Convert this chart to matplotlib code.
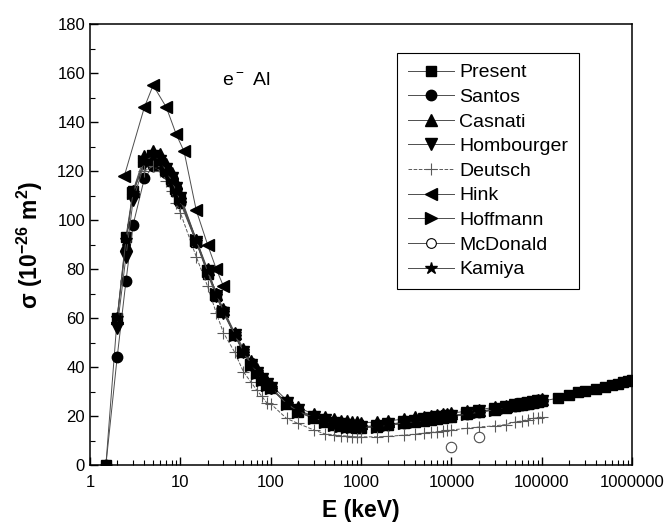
#!/usr/bin/env python3
"""Total cross section of e- on Al versus energy: present results vs literature data."""
import matplotlib
matplotlib.use('Agg')
import matplotlib.pyplot as plt
from matplotlib.lines import Line2D
from matplotlib.ticker import FixedLocator, NullFormatter, LogLocator, MultipleLocator

plt.rcParams['font.family'] = ['Liberation Sans', 'DejaVu Sans']
plt.rcParams['mathtext.fontset'] = 'custom'
plt.rcParams['mathtext.rm'] = 'Liberation Sans'
plt.rcParams['mathtext.bf'] = 'Liberation Sans:bold'

# energy grid (keV) shared by most data sets
E_grid = [1.5, 2, 2.5, 3, 4, 5, 6, 7, 8, 9, 10, 15, 20, 25, 30, 40, 50, 60, 70, 80, 90,
          100, 150, 200, 300, 400, 500, 600, 700, 800, 900, 1000, 1500, 2000, 3000, 4000,
          5000, 6000, 7000, 8000, 9000, 10000, 15000, 20000, 30000, 40000, 50000, 60000,
          70000, 80000, 90000, 100000]
E_high = [150000, 200000, 250000, 300000, 400000, 500000, 600000, 700000, 800000,
          900000, 1000000]

present = [0, 60, 93, 112, 124, 125, 123, 120, 116, 112, 108, 91, 78, 69, 62.5, 53, 46,
           41, 37.5, 34.7, 32.6, 31.4, 25, 21.6, 19, 17.6, 16.3, 15.8, 15.5, 15.4, 15.3,
           15.3, 15.6, 16.2, 17, 17.6, 18.1, 18.5, 18.9, 19.2, 19.5, 19.7, 20.7, 21.5,
           22.5, 23.3, 24, 24.5, 25, 25.4, 25.7, 26]
present_high = [27.3, 28.6, 29.6, 30.2, 31.2, 32, 32.6, 33.2, 33.7, 34.1, 34.5]

santos = [0, 44, 75, 98, 117, 122, 122, 119, 116, 112, 107, 91, 79, 70, 63, 53, 46.5,
          41.5, 38, 35, 33, 31.5, 25.5, 22.3, 19.5, 18, 17, 16.4, 16, 15.8, 15.6, 15.5,
          15.8, 16.4, 17.3, 17.9, 18.4, 18.8, 19.1, 19.4, 19.7, 19.9, 20.9, 21.7, 22.7,
          23.5, 24.1, 24.7, 25.1, 25.5, 25.8, 26.1]

# these start at 2 keV
casnati = [60, 90, 112, 126, 128, 127, 123, 119, 115, 110, 92, 80, 70, 63.5, 54, 47.5,
           42.5, 39, 36, 34, 32.8, 26.5, 23.5, 20.8, 19.5, 18.6, 18.1, 17.8, 17.6, 17.4,
           17.3, 17.5, 18, 18.8, 19.4, 19.8, 20.2, 20.5, 20.8, 21, 21.2, 22, 22.6, 23.5,
           24.2, 24.8, 25.3, 25.8, 26.2, 26.5, 26.8]
hombourger = [56, 85, 108, 123, 126, 124, 121, 117, 113, 109, 91, 79, 69, 62, 53, 46, 41,
              37.5, 35, 33, 31.5, 25.5, 22.5, 19.8, 18.3, 17.3, 16.6, 16.2, 16, 15.8,
              15.7, 16, 16.6, 17.5, 18.1, 18.6, 19, 19.4, 19.7, 20, 20.2, 21.1, 21.9,
              22.9, 23.6, 24.3, 24.8, 25.3, 25.7, 26, 26.3]
kamiya = [60, 92, 111, 124, 126, 124, 120, 116, 112, 108, 92, 79, 70, 63, 53.5, 46.5,
          41.5, 38, 35, 33, 31.5, 25, 22, 19.3, 17.8, 16.8, 16.2, 15.8, 15.6, 15.5, 15.4,
          15.7, 16.3, 17.2, 17.8, 18.3, 18.7, 19, 19.3, 19.6, 19.8, 20.8, 21.6, 22.6, 23.4,
          24.1, 24.6, 25.1, 25.5, 25.8, 26.1]

# starts at 3 keV
hoffmann = [111, 124, 126, 124, 121, 117, 113, 109, 92, 79, 70, 63, 53, 46, 41, 37.5,
            34.8, 32.8, 31.4, 25, 21.8, 19.2, 17.7, 16.5, 16, 15.7, 15.5, 15.4, 15.4,
            15.7, 16.3, 17.1, 17.7, 18.2, 18.6, 19, 19.3, 19.6, 19.8, 20.8, 21.6, 22.6,
            23.4, 24.1, 24.6, 25.1, 25.5, 25.8, 26.1]

# starts at 4 keV
deutsch = [120, 122, 120, 116, 112, 107, 103, 85, 73, 62, 54, 46, 38, 34, 30.6, 28, 25.5,
           25, 19, 17, 14.3, 12.7, 12.3, 12, 11.8, 11.6, 11.5, 11.5, 11.5, 11.7, 12.2,
           12.6, 13, 13.3, 13.6, 13.9, 14.1, 14.3, 15, 15.5, 16, 16.5, 17.5, 18, 18.5,
           19, 19.3, 19.6]

E_hink = [2.4, 4, 5, 7, 9, 11, 15, 20, 25, 30]
hink = [118, 146, 155, 146, 135, 128, 104, 90, 80, 73]

E_mcdonald = [10000, 20000]
mcdonald = [7.5, 11.5]

fig = plt.figure(figsize=(6.64, 5.30), dpi=100)
ax = fig.add_axes([0.1355, 0.1226, 0.8165, 0.8321])

line_kw = dict(color='0.3', lw=0.7, mfc='black', mec='black')
handles = []
h, = ax.plot(E_grid + E_high, present + present_high, marker='s', ms=6.5, **line_kw)
handles.append((h, 'Present'))
h, = ax.plot(E_grid, santos, marker='o', ms=7.5, **line_kw)
handles.append((h, 'Santos'))
h, = ax.plot(E_grid[1:], casnati, marker='^', ms=8, **line_kw)
handles.append((h, 'Casnati'))
h, = ax.plot(E_grid[1:], hombourger, marker='v', ms=8, **line_kw)
handles.append((h, 'Hombourger'))
h, = ax.plot(E_grid[4:], deutsch, marker='+', ms=8, mew=0.8, ls='--', color='0.35', lw=0.7)
handles.append((h, 'Deutsch'))
h, = ax.plot(E_hink, hink, marker='<', ms=8.5, **line_kw)
handles.append((h, 'Hink'))
h, = ax.plot(E_grid[3:], hoffmann, marker='>', ms=8, **line_kw)
handles.append((h, 'Hoffmann'))
ax.plot(E_mcdonald, mcdonald, ls='none', marker='o', ms=7.5, mfc='white', mec='0.3', mew=0.8)
handles.append((Line2D([], [], color='0.3', lw=0.7, marker='o', ms=7, mfc='white',
                       mec='black', mew=0.8), 'McDonald'))
h, = ax.plot(E_grid[1:], kamiya, marker='*', ms=9, **line_kw)
handles.append((h, 'Kamiya'))

ax.set_xscale('log')
ax.set_xlim(1, 1e6)
ax.set_ylim(0, 180)
ax.xaxis.set_major_locator(FixedLocator([1, 10, 100, 1000, 1e4, 1e5, 1e6]))
ax.set_xticklabels(['1', '10', '100', '1000', '10000', '100000', '1000000'])
ax.xaxis.set_minor_locator(LogLocator(base=10, subs=range(2, 10), numticks=20))
ax.xaxis.set_minor_formatter(NullFormatter())
ax.yaxis.set_major_locator(MultipleLocator(20))
ax.yaxis.set_minor_locator(MultipleLocator(10))
ax.tick_params(which='both', direction='in', top=False, right=False, labelsize=12)
ax.tick_params(which='major', length=6, width=1)
ax.tick_params(which='minor', length=3.5, width=0.8)
ax.tick_params(axis='x', pad=7)
for sp in ax.spines.values():
    sp.set_linewidth(1.1)

ax.set_xlabel('E (keV)', fontsize=16.5, fontweight='bold', labelpad=7)
ax.set_ylabel('\u03c3 (10$^{\\mathbf{-26}}$ m$^{\\mathbf{2}}$)', fontsize=16.5,
              fontweight='bold', labelpad=9)
ax.text(0.244, 0.873, r'e$^-$ Al', transform=ax.transAxes, fontsize=14, va='center')

leg = ax.legend([hh for hh, _ in handles], [lab for _, lab in handles],
                loc='upper left', bbox_to_anchor=(0.566, 0.934), borderaxespad=0,
                fontsize=14, frameon=True, fancybox=False, edgecolor='black',
                framealpha=1, labelspacing=0.36, handlelength=2.4, handletextpad=0.25,
                borderpad=0.55)
leg.get_frame().set_linewidth(0.8)

fig.savefig('out.png', dpi=100)
